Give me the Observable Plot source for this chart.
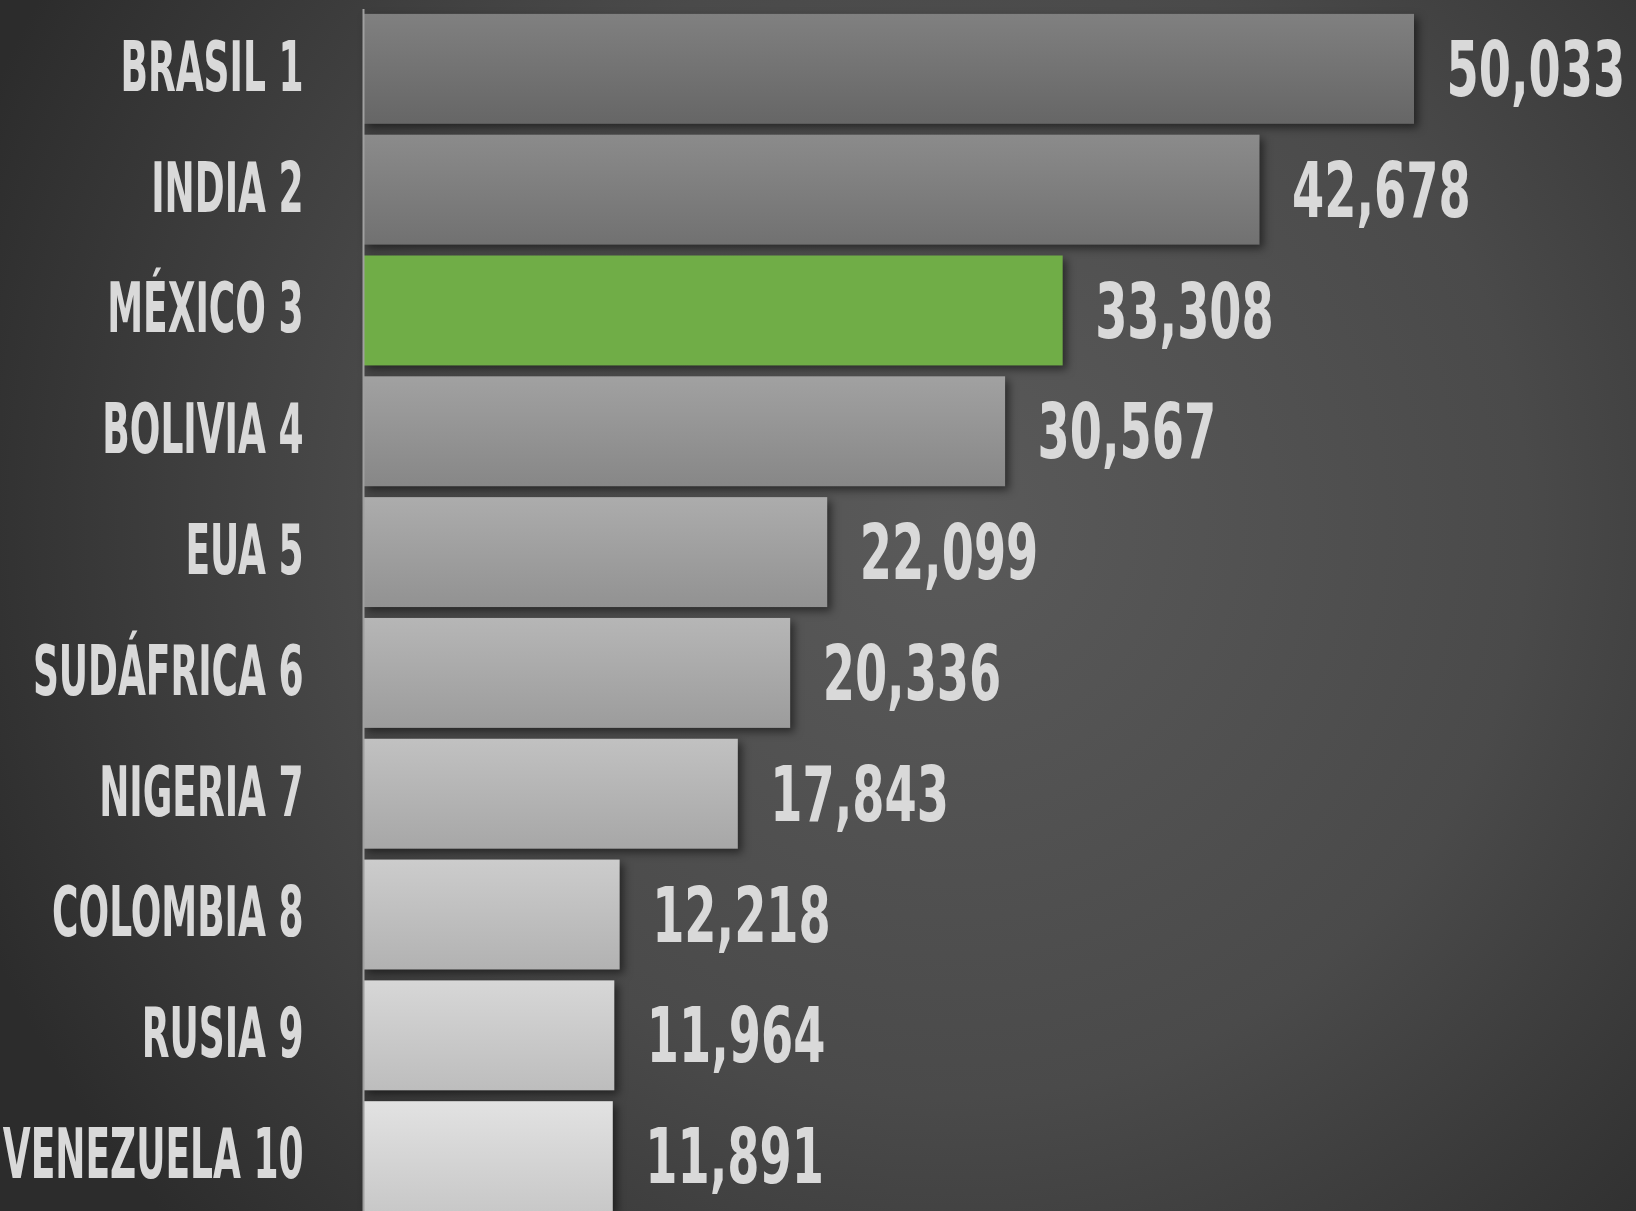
<!DOCTYPE html>
<html>
<head>
<meta charset="utf-8">
<script src="https://cdn.jsdelivr.net/npm/d3@7"></script>
<script src="https://cdn.jsdelivr.net/npm/@observablehq/plot@0.6"></script>
<style>
  html, body { margin: 0; padding: 0; background: #333; overflow: hidden; }
  #chart svg { display: block; }
</style>
</head>
<body>
<div id="chart"></div>
<script>
const countries = ["BRASIL 1", "INDIA 2", "MÉXICO 3", "BOLIVIA 4", "EUA 5", "SUDÁFRICA 6", "NIGERIA 7", "COLOMBIA 8", "RUSIA 9", "VENEZUELA 10"];
const values = [50033, 42678, 33308, 30567, 22099, 20336, 17843, 12218, 11964, 11891];
const highlight = "MÉXICO 3";

const data = countries.map((c, i) => ({country: c, value: values[i], rank: i}));

const gray = d3.scaleLinear().domain([0, countries.length - 1]).range([128, 226]);
const grayHex = v => d3.rgb(v, v, v).formatHex();

const defs = () => {
  const d = d3.create("svg:defs");
  data.forEach(r => {
    const g = d.append("linearGradient").attr("id", "barg" + r.rank)
      .attr("x1", 0).attr("y1", 0).attr("x2", 0).attr("y2", 1);
    let top, bottom;
    if (r.country === highlight) { top = bottom = "#70ad47"; }
    else { const v = gray(r.rank); top = grayHex(v); bottom = grayHex(v - 26); }
    g.append("stop").attr("offset", "0%").attr("stop-color", top);
    g.append("stop").attr("offset", "100%").attr("stop-color", bottom);
  });
  return d.node();
};

const font = "'DejaVu Sans Condensed', 'DejaVu Sans', sans-serif";

const chart = Plot.plot({
  width: 1636,
  height: 1211,
  marginLeft: 363,
  marginRight: 222,
  marginTop: 9,
  marginBottom: 0,
  style: {
    background: "radial-gradient(circle 1050px at 950px 520px, #5a5a5a 0%, #4a4a4a 55%, #2c2c2c 100%)",
    overflow: "hidden"
  },
  x: {domain: [0, d3.max(values)], axis: null},
  y: {domain: countries, range: [3, 1222], padding: 0.09, round: false, axis: null},
  marks: [
    defs,
    Plot.barX(data, {x: "value", y: "country", fill: "#888"}),
    Plot.ruleX([0], {stroke: "#a0a0a0", strokeWidth: 2}),
    Plot.text(data, {x: 0, y: "country", text: "country", textAnchor: "end", dx: -60, dy: -1,
      fontSize: 70, fontWeight: "bold", fontFamily: font, fill: "#d9d9d9"}),
    Plot.text(data, {x: "value", y: "country", text: d => d3.format(",")(d.value), textAnchor: "start", dx: 32, dy: 2,
      fontSize: 77, fontWeight: "bold", fontFamily: font, fill: "#d9d9d9"})
  ]
});

document.getElementById("chart").appendChild(chart);

const svg = d3.select(chart);
svg.selectAll('g[aria-label="bar"] rect').attr("fill", (_, i) => `url(#barg${i})`);
svg.select('g[aria-label="bar"]').style("filter", "drop-shadow(4px 4px 4px rgba(0,0,0,0.5))");

// condense glyphs horizontally to mimic the narrow display face
const textGroups = svg.selectAll('g[aria-label="text"]').nodes();
const squeeze = [0.572, 0.668];
textGroups.forEach((g, k) => {
  d3.select(g).selectAll("text").each(function () {
    const w = this.getComputedTextLength();
    this.setAttribute("textLength", (w * squeeze[k]).toFixed(1));
    this.setAttribute("lengthAdjust", "spacingAndGlyphs");
  });
});
</script>
</body>
</html>
